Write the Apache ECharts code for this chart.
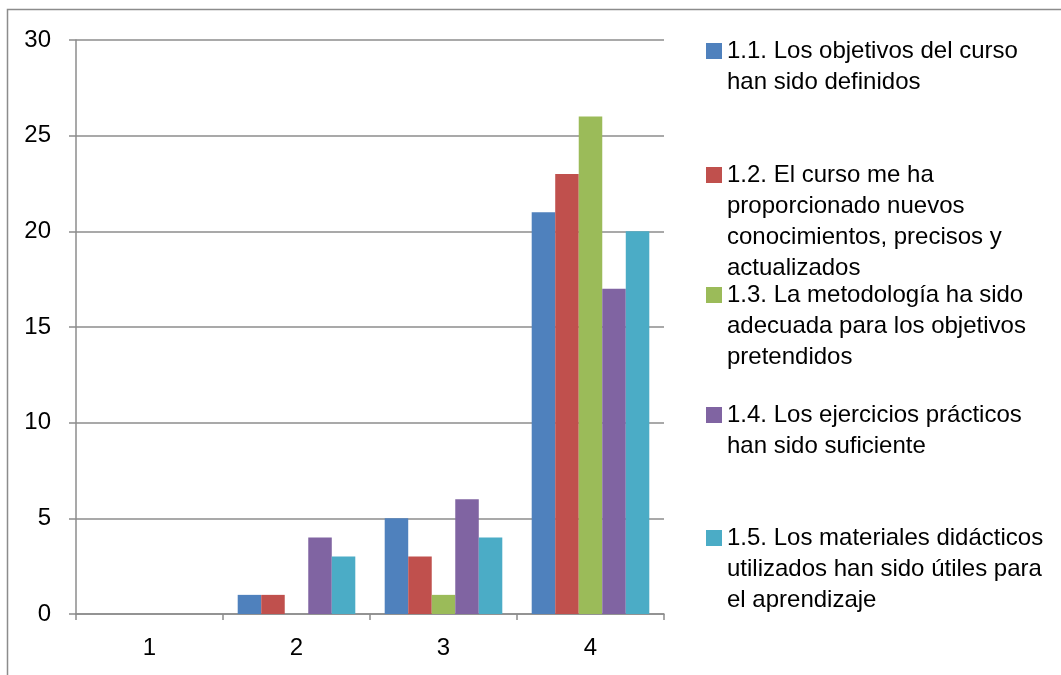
<!DOCTYPE html>
<html>
<head>
<meta charset="utf-8">
<script src="https://cdn.jsdelivr.net/npm/echarts@6/dist/echarts.min.js"></script>
<style>
  html, body { margin: 0; padding: 0; background: #fff; }
  #chart { width: 1061px; height: 675px; }
</style>
</head>
<body>
<div id="chart"></div>
<script>
const categories = ['1', '2', '3', '4']
const seriesNames = [
  '1.1. Los objetivos del curso\nhan sido definidos',
  '1.2. El curso me ha\nproporcionado nuevos\nconocimientos, precisos y\nactualizados',
  '1.3. La metodología ha sido\nadecuada para los objetivos\npretendidos',
  '1.4. Los ejercicios prácticos\nhan sido suficiente',
  '1.5. Los materiales didácticos\nutilizados han sido útiles para\nel aprendizaje'
]
const obj11 = [0, 1, 5, 21]
const obj12 = [0, 1, 3, 23]
const obj13 = [0, 0, 1, 26]
const obj14 = [0, 4, 6, 17]
const obj15 = [0, 3, 4, 20]
const colors = ['#4F81BD', '#C0504D', '#9BBB59', '#8064A2', '#4BACC6']

const seriesData = [obj11, obj12, obj13, obj14, obj15]
const font = 'Liberation Sans'
const lineH = 31
// first-line centre of each legend entry
const legendCentres = [51, 175, 295, 415, 538]

// one legend per entry so the square sits on the first text line (like Excel)
const legends = seriesNames.map((name, i) => {
  const n = name.split('\n').length
  return {
    orient: 'vertical',
    left: 706,
    top: legendCentres[i] - (2 * n - 1) * lineH / 2,
    padding: 0,
    itemWidth: 16,
    itemHeight: 16,
    icon: 'rect',
    selectedMode: false,
    data: [name],
    // blank lines on top push the first real line onto the icon's centre
    formatter: nm => ' \n'.repeat(n - 1) + nm,
    textStyle: {
      fontFamily: font,
      fontSize: 24,
      color: '#000',
      lineHeight: lineH
    }
  }
})

const chart = echarts.init(document.getElementById('chart'))
chart.setOption({
  animation: false,
  color: colors,
  graphic: [{
    type: 'rect',
    shape: { x: 7.5, y: 9.5, width: 1100, height: 700 },
    style: { fill: 'none', stroke: '#8c8c8c', lineWidth: 1.5 },
    silent: true
  }],
  legend: legends,
  grid: { left: 76, right: 397, top: 40, bottom: 61 },
  xAxis: {
    type: 'category',
    data: categories,
    axisLine: { lineStyle: { color: '#8c8c8c', width: 1.5 } },
    axisTick: { show: true, length: 6, lineStyle: { color: '#8c8c8c', width: 1.5 } },
    axisLabel: { color: '#000', fontFamily: font, fontSize: 24, margin: 22 }
  },
  yAxis: {
    type: 'value',
    min: 0,
    max: 30,
    interval: 5,
    axisLine: { show: true, lineStyle: { color: '#8c8c8c', width: 1.5 } },
    axisTick: { show: true, length: 7, lineStyle: { color: '#8c8c8c', width: 1.5 } },
    splitLine: { lineStyle: { color: '#8c8c8c', width: 1.5 } },
    axisLabel: { color: '#000', fontFamily: font, fontSize: 24, margin: 25 }
  },
  series: seriesData.map((d, i) => ({
    name: seriesNames[i],
    type: 'bar',
    data: d,
    barGap: '0%',
    barCategoryGap: '20%'
  }))
})
</script>
</body>
</html>
